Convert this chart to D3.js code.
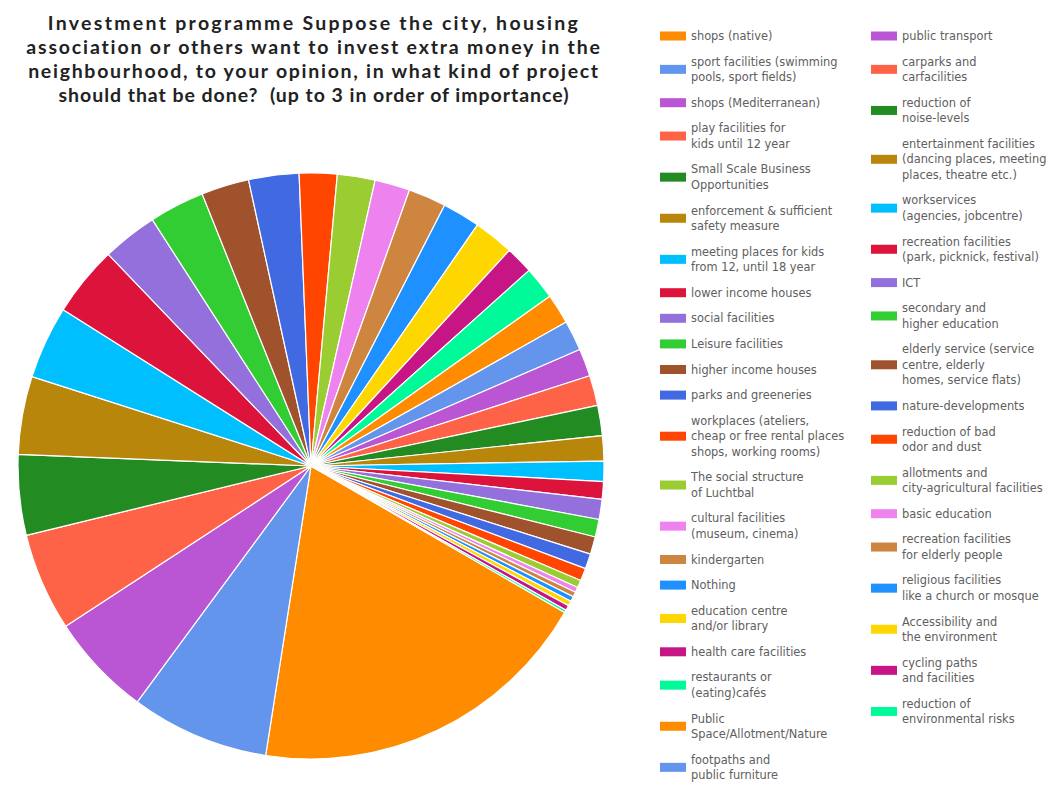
<!DOCTYPE html>
<html>
<head>
<meta charset="utf-8">
<script src="https://cdn.jsdelivr.net/npm/d3@7"></script>
<style>
  html, body { margin: 0; padding: 0; background: #fff; }
  svg { display: block; }
</style>
</head>
<body>
<svg id="chart" width="1051" height="789"></svg>
<script>
// Survey question shown as a 4-line title
const titleLines = [
  "Investment programme Suppose the city, housing",
  "association or others want to invest extra money in the",
  "neighbourhood, to your opinion, in what kind of project",
  "should that be done?  (up to 3 in order of importance)"
];

// Answer categories, in legend order ("\n" marks a legend line break)
const categories = [
  "shops (native)",
  "sport facilities (swimming\npools, sport fields)",
  "shops (Mediterranean)",
  "play facilities for\nkids until 12 year",
  "Small Scale Business\nOpportunities",
  "enforcement & sufficient\nsafety measure",
  "meeting places for kids\nfrom 12, until 18 year",
  "lower income houses",
  "social facilities",
  "Leisure facilities",
  "higher income houses",
  "parks and greeneries",
  "workplaces (ateliers,\ncheap or free rental places\nshops, working rooms)",
  "The social structure\nof Luchtbal",
  "cultural facilities\n(museum, cinema)",
  "kindergarten",
  "Nothing",
  "education centre\nand/or library",
  "health care facilities",
  "restaurants or\n(eating)cafés",
  "Public\nSpace/Allotment/Nature",
  "footpaths and\npublic furniture",
  "public transport",
  "carparks and\ncarfacilities",
  "reduction of\nnoise-levels",
  "entertainment facilities\n(dancing places, meeting\nplaces, theatre etc.)",
  "workservices\n(agencies, jobcentre)",
  "recreation facilities\n(park, picknick, festival)",
  "ICT",
  "secondary and\nhigher education",
  "elderly service (service\ncentre, elderly\nhomes, service flats)",
  "nature-developments",
  "reduction of bad\nodor and dust",
  "allotments and\ncity-agricultural facilities",
  "basic education",
  "recreation facilities\nfor elderly people",
  "religious facilities\nlike a church or mosque",
  "Accessibility and\nthe environment",
  "cycling paths\nand facilities",
  "reduction of\nenvironmental risks"
];

// Number of mentions per category
const counts = [
  138, 55, 41, 39, 32, 31, 29, 28, 22, 22,
  19, 20, 15, 15, 14, 15, 15, 16, 11, 13,
  12, 12, 11, 12, 12, 10, 8, 7, 8, 7,
  7, 6, 5, 3, 2, 2, 2, 2, 2, 1
];

// Slice colours, cycled through the categories
const palette = [
  "#ff8c00", "#6495ed", "#ba55d3", "#ff6347", "#228b22",
  "#b8860b", "#00bfff", "#dc143c", "#9370db", "#32cd32",
  "#a0522d", "#4169e1", "#ff4500", "#9acd32", "#ee82ee",
  "#cd853f", "#1e90ff", "#ffd700", "#c71585", "#00fa9a"
];

// Number of legend entries in the first column
const legendSplit = 22;

const data = categories.map((c, i) => ({ name: c, value: counts[i], idx: i }));
const svg = d3.select("#chart");

// ---- title ----
const titleSize = 19.5;
const titleWidths = [530, 574, 570, 510];
const title = svg.append("g")
  .attr("font-family", "Lato, 'Open Sans', sans-serif")
  .attr("font-weight", 700)
  .attr("font-size", titleSize)
  .attr("fill", "#222")
  .attr("text-anchor", "middle");

title.selectAll("text").data(titleLines).join("text")
  .attr("xml:space", "preserve")
  .attr("x", 314)
  .attr("y", (d, i) => 30 + i * 24)
  .text(d => d)
  .each(function (d, i) {
    // spread the letters so each line spans its width
    const w = this.getComputedTextLength();
    const ls = (titleWidths[i] - w) / Math.max(1, d.length - 1);
    d3.select(this).attr("letter-spacing", ls.toFixed(3));
  });

// ---- pie ----
const cx = 311, cy = 466, radius = 293;
const startDeg = 120;
const pie = d3.pie()
  .value(d => d.value)
  .sort(null)
  .startAngle(startDeg * Math.PI / 180)
  .endAngle(startDeg * Math.PI / 180 + 2 * Math.PI);

const arc = d3.arc().innerRadius(0).outerRadius(radius);
const color = d3.scaleOrdinal().domain(d3.range(categories.length))
  .range(categories.map((c, i) => palette[i % palette.length]));

svg.append("g")
  .attr("transform", `translate(${cx},${cy})`)
  .selectAll("path")
  .data(pie(data))
  .join("path")
  .attr("d", arc)
  .attr("fill", d => color(d.data.idx))
  .attr("stroke", "#fff")
  .attr("stroke-width", 1.2)
  .attr("stroke-linejoin", "round");

// ---- legend ----
const lineH = 15.5, gap = 10.1;
const columns = [
  { items: data.slice(0, legendSplit), swX: 660, txX: 691 },
  { items: data.slice(legendSplit), swX: 871, txX: 902 }
];

const legend = svg.append("g")
  .attr("font-family", "'DejaVu Sans', Verdana, sans-serif")
  .attr("font-size", 11.4)
  .attr("fill", "#606060");

columns.forEach(col => {
  let y = 36; // centre of the first text line
  col.items.forEach(item => {
    const lines = item.name.split("\n");
    const blockMid = y + (lines.length - 1) * lineH / 2;
    const g = legend.append("g");
    g.append("rect")
      .attr("x", col.swX)
      .attr("y", blockMid - 4.5)
      .attr("width", 26)
      .attr("height", 9)
      .attr("fill", color(item.idx));
    g.selectAll("text").data(lines).join("text")
      .attr("x", col.txX)
      .attr("y", (d, i) => y + i * lineH + 4)
      .text(d => d);
    y += lines.length * lineH + gap;
  });
});
</script>
</body>
</html>
